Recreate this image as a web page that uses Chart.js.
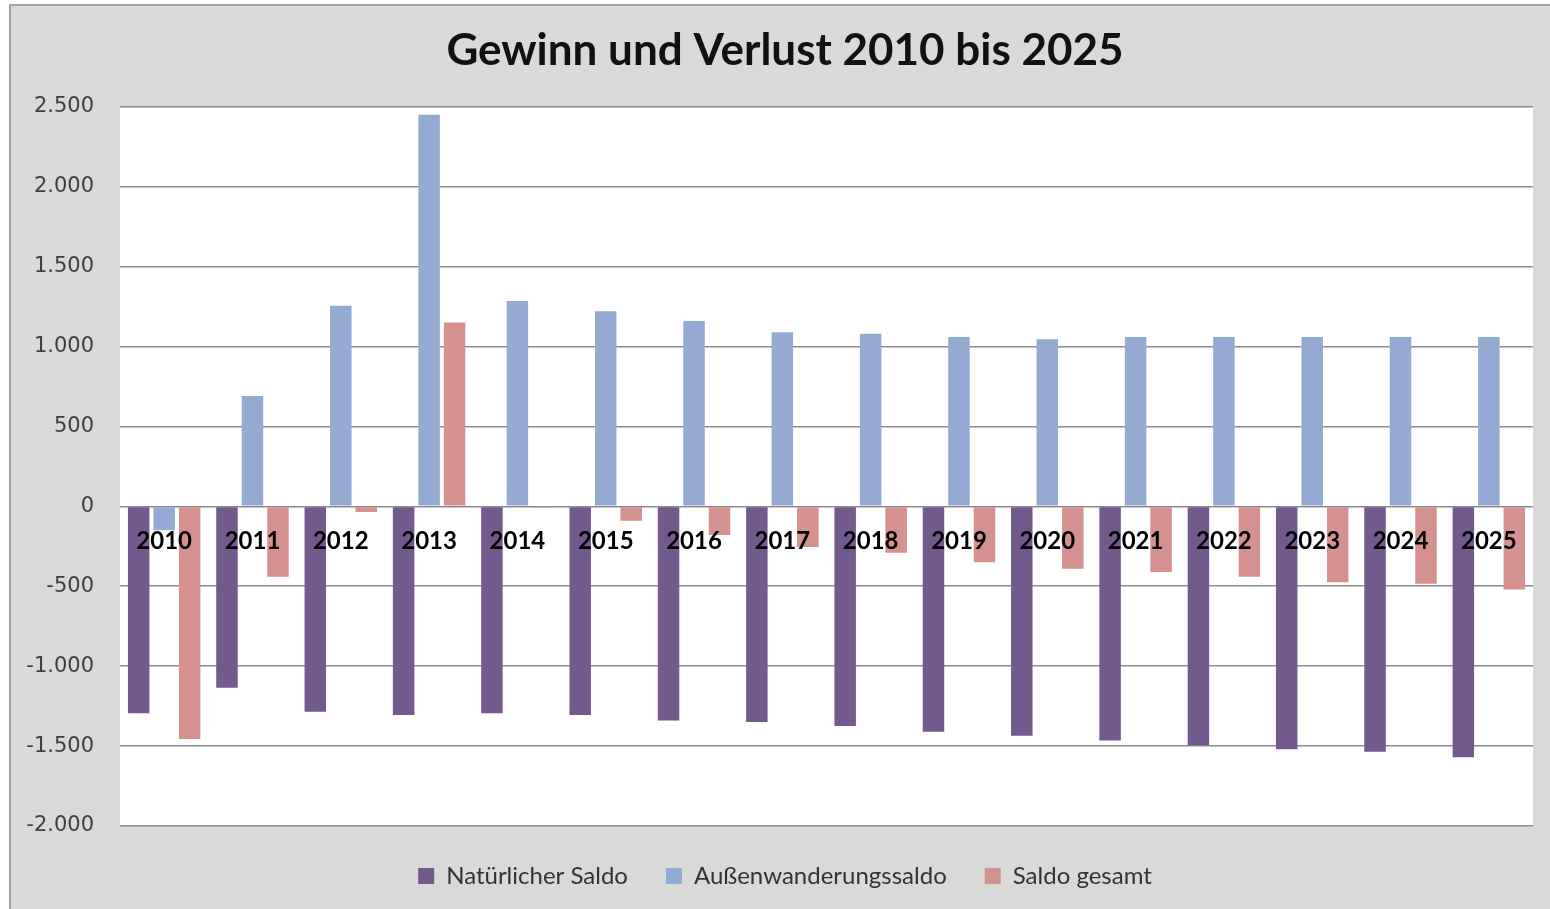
<!DOCTYPE html>
<html>
<head>
<meta charset="utf-8">
<title>Gewinn und Verlust 2010 bis 2025</title>
<script src="https://cdn.jsdelivr.net/npm/chart.js@4.4.1/dist/chart.umd.min.js"></script>
<style>
  html, body { margin: 0; padding: 0; background: #fff; overflow: hidden; width: 1550px; height: 909px; }
  #rahmen { position: absolute; left: 9px; top: 4px; width: 1600px; height: 1000px; background: #d9d9d9;
            border-left: 2px solid #a3a3a3; border-top: 2px solid #a3a3a3; }
  #diagramm { position: absolute; left: 10px; top: 0; }
</style>
</head>
<body>
<div id="rahmen"></div>
<canvas id="diagramm" width="1550" height="909"></canvas>
<script>
// Werte
const jahre = ['2010', '2011', '2012', '2013', '2014', '2015', '2016', '2017',
               '2018', '2019', '2020', '2021', '2022', '2023', '2024', '2025'];
const natuerlicherSaldo = [-1295, -1135, -1285, -1305, -1295, -1305, -1340, -1350,
                           -1375, -1410, -1435, -1465, -1495, -1520, -1535, -1570];
const aussenwanderungssaldo = [-150, 690, 1255, 2450, 1285, 1220, 1160, 1090,
                               1080, 1060, 1045, 1060, 1060, 1060, 1060, 1060];
const saldoGesamt = [-1455, -440, -35, 1150, -4, -90, -180, -255,
                     -290, -350, -390, -410, -440, -475, -485, -520];
const achseMin = -2000;
const achseMax = 2500;
const achseSchritt = 500;

// weisse Zeichenflaeche
const plotHintergrund = {
  id: 'plotHintergrund',
  beforeDraw(chart) {
    const a = chart.chartArea;
    const ctx = chart.ctx;
    ctx.save();
    ctx.fillStyle = '#ffffff';
    ctx.fillRect(a.left, a.top, a.right - a.left, a.bottom - a.top);
    ctx.restore();
  }
};

function balken(label, werte, farbe) {
  return {
    label: label,
    data: werte,
    backgroundColor: farbe,
    borderWidth: 0,
    categoryPercentage: 0.866,
    barPercentage: 0.843
  };
}

const ctx = document.getElementById('diagramm');
new Chart(ctx, {
  type: 'bar',
  data: {
    labels: jahre,
    datasets: [
      balken('Natürlicher Saldo', natuerlicherSaldo, '#725a8f'),
      balken('Außenwanderungssaldo', aussenwanderungssaldo, '#94aad2'),
      balken('Saldo gesamt', saldoGesamt, '#d4918f')
    ]
  },
  plugins: [plotHintergrund],
  options: {
    responsive: false,
    devicePixelRatio: 1,
    animation: false,
    layout: { padding: { left: 0, right: 0, top: 0, bottom: 11 } },
    plugins: {
      title: {
        display: true,
        text: 'Gewinn und Verlust 2010 bis 2025',
        color: '#111111',
        font: { family: 'Lato', size: 44, weight: 'bold', lineHeight: 1.2 },
        padding: { top: 24, bottom: 30 }
      },
      legend: {
        position: 'bottom',
        labels: {
          boxWidth: 16,
          boxHeight: 16,
          padding: 38,
          color: '#333333',
          font: { family: 'Lato', size: 24 }
        }
      },
      tooltip: { enabled: false }
    },
    scales: {
      x: {
        position: { y: 0 },
        grid: { display: false, drawTicks: false },
        border: { display: false },
        ticks: {
          z: 1,
          color: '#000000',
          padding: 21,
          maxRotation: 0,
          autoSkip: false,
          font: { family: 'Lato', size: 24, weight: 'bold' }
        }
      },
      y: {
        min: achseMin,
        max: achseMax,
        grid: { color: '#8c8c8c', lineWidth: 1.6, drawTicks: false },
        border: { display: false },
        ticks: {
          stepSize: achseSchritt,
          padding: 26,
          color: '#404040',
          font: { family: 'DejaVu Sans', size: 21 },
          callback: v => v.toLocaleString('de-DE')
        },
        afterFit: s => { s.width = 110; }
      },
      rechts: {
        type: 'linear',
        position: 'right',
        grid: { display: false, drawTicks: false },
        border: { display: false },
        ticks: { display: false },
        afterFit: s => { s.width = 27; }
      }
    }
  }
});
</script>
</body>
</html>
